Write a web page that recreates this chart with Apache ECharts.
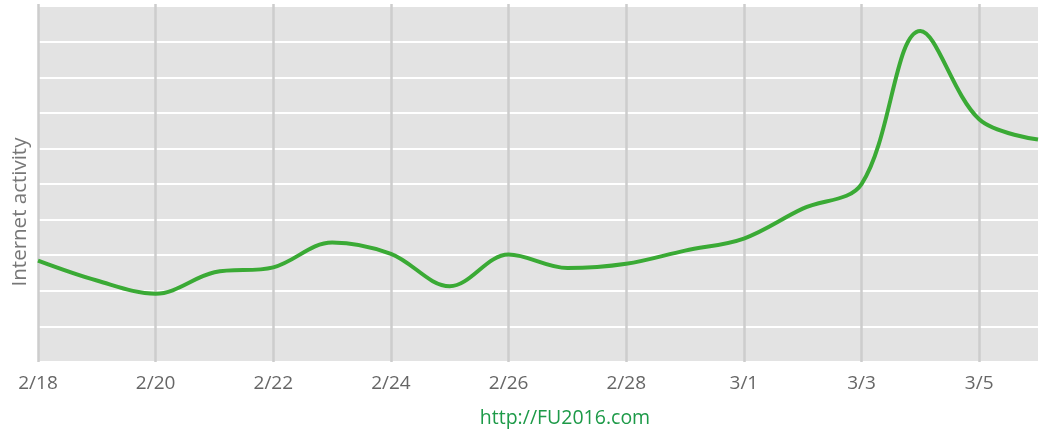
<!DOCTYPE html>
<html>
<head>
<meta charset="utf-8">
<script src="https://cdn.jsdelivr.net/npm/echarts@6/dist/echarts.min.js"></script>
<style>
  html, body { margin: 0; padding: 0; background: #ffffff; }
  #chart { width: 1045px; height: 433px; }
</style>
</head>
<body>
<div id="chart"></div>
<script>
// Data
var dates = ['2/18','2/19','2/20','2/21','2/22','2/23','2/24','2/25','2/26','2/27','2/28','2/29','3/1','3/2','3/3','3/4','3/5','3/6'];
var activity = [2.85, 2.29, 1.92, 2.52, 2.66, 3.36, 3.04, 2.13, 3.02, 2.64, 2.76, 3.13, 3.47, 4.31, 5.0, 9.3, 6.82, 6.25];
var yAxisTitle = 'Internet activity';
var sourceText = 'http://FU2016.com';

var chart = echarts.init(document.getElementById('chart'));
chart.setOption({
  animation: false,
  backgroundColor: '#ffffff',
  grid: {
    left: 38, right: 7, top: 4, bottom: 71,
    show: true, backgroundColor: '#e3e3e3', borderWidth: 0
  },
  xAxis: {
    type: 'category',
    data: dates,
    boundaryGap: false,
    axisLine: { show: false },
    axisTick: { show: false },
    axisLabel: {
      interval: 1, color: '#666666', fontSize: 19,
      fontFamily: 'Open Sans', margin: 12
    },
    splitLine: {
      show: true, interval: 1,
      lineStyle: { color: '#cdcdcd', width: 2.5 }
    }
  },
  yAxis: {
    type: 'value',
    min: 0, max: 10.06, interval: 1,
    axisLine: { show: false },
    axisTick: { show: false },
    axisLabel: { show: false },
    splitLine: { show: true, lineStyle: { color: '#ffffff', width: 2 } }
  },
  graphic: [
    {
      type: 'text', x: 20, y: 212, rotation: Math.PI / 2,
      style: {
        text: yAxisTitle, fill: '#777777', fontSize: 20.5,
        fontFamily: 'Open Sans', align: 'center', verticalAlign: 'middle'
      }
    },
    {
      type: 'text', x: 565, y: 418,
      style: {
        text: sourceText, fill: '#1d9a48', fontSize: 19.5,
        fontFamily: 'Open Sans', align: 'center', verticalAlign: 'middle'
      }
    }
  ],
  series: [{
    type: 'line',
    data: activity,
    smooth: 0.35,
    symbol: 'none',
    lineStyle: { color: '#3aaa35', width: 4 }
  }]
});
</script>
</body>
</html>
